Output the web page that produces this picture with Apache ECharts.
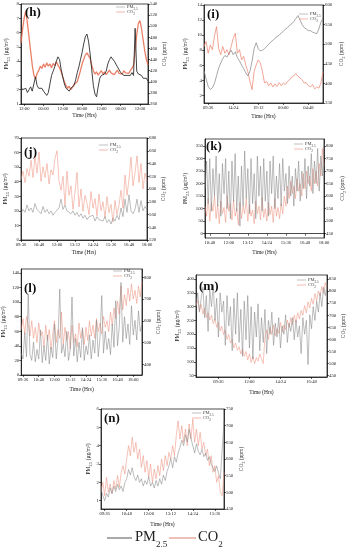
<!DOCTYPE html>
<html><head><meta charset="utf-8">
<script src="https://cdn.jsdelivr.net/npm/echarts@6/dist/echarts.min.js"></script>
<style>html,body{margin:0;padding:0;background:#fff}#c{width:350px;height:550px}</style>
</head><body><div id="c"></div>
<script>
// ---------- data ----------
const hPM = [2.2,2.0,1.9,2.1,1.8,2.0,2.2,1.9,2.4,2.9,2.3,2.1,2.0,2.1,1.9,2.0,1.6,1.8,2.4,3.0,3.3,3.6,4.0,4.3,4.1,3.4,2.9,2.4,2.1,2.0,1.9,2.1,2.0,2.3,2.7,3.2,3.6,4.1,4.6,5.2,5.7,5.9,5.4,4.5,3.4,2.3,1.7,1.5,2.2,2.8,3.0,2.9,3.1,3.3,3.8,4.1,4.3,4.2,4.0,3.8,3.6,3.4,3.2,3.1,3.0,2.9,3.0,3.1,3.0,3.2,3.0,6.3,3.3,3.1,3.2,3.0,2.8,2.7,2.8,2.6];
const hCO2 = [470,495,515,528,505,480,455,430,412,405,415,420,428,424,432,426,434,428,432,425,433,429,436,430,425,418,408,400,393,388,392,386,390,395,393,400,410,420,432,440,448,452,450,442,430,420,414,418,412,416,420,414,418,413,417,421,416,419,413,417,421,415,418,414,420,416,419,415,420,424,430,455,485,505,510,495,475,455,440,430];
const iPM = [5.3,4.2,3.2,2.8,3.0,3.6,4.6,5.6,6.3,6.9,7.3,7.1,7.6,8.0,7.4,7.8,7.0,6.6,6.0,5.6,5.0,4.6,5.2,6.5,8.2,9.0,8.2,7.9,8.0,8.2,8.5,8.8,9.1,9.3,9.6,9.8,10.0,10.3,10.5,10.8,11.0,11.3,11.5,11.8,12.2,12.6,12.0,11.4,11.0,10.8,10.6,10.6,10.4,10.3,10.2,10.8,11.7,12.3];
const iCO2 = [494,507,477,498,486,520,545,490,473,494,477,486,473,494,515,528,477,486,460,469,447,430,405,384,430,447,460,452,430,401,405,394,401,391,399,392,402,394,401,397,405,409,416,419,425,418,414,409,401,402,394,391,397,386,391,388,401,430];
const jPM = [18,21,19,24,20,22,19,25,21,20,18,23,19,21,18,20,17,19,18,22,28,21,24,20,21,18,20,17,19,16,18,15,17,14,16,15,17,13,16,14,15,13,16,12,14,11,15,13,17,14,22,16,28,19,31,20,18,21,28,19,27,20,23,21];
const jCO2 = [615,628,610,632,620,645,618,652,625,658,612,635,618,640,608,630,622,648,660,612,598,620,575,628,590,605,568,595,626,572,600,565,590,578,560,596,570,585,558,592,566,580,555,588,563,576,548,582,560,575,598,570,622,590,615,650,605,625,652,610,640,600,625,612];
const kPM = [180,290,120,300,90,260,150,310,110,240,70,280,160,300,100,250,60,290,130,320,90,230,30,270,110,330,140,260,80,300,120,240,60,310,150,270,90,300,130,250,70,290,160,310,100,230,140,280,110,300,170,240,120,270,150,230,110,260,170,290,130,250,180,300,140,270,190,320,160,290,200,340,170,310,230,360];
const kCO2 = [560,520,590,500,575,540,600,510,565,490,580,530,555,495,600,540,570,505,585,520,550,485,575,510,560,530,590,500,565,520,545,490,580,530,560,505,595,515,550,500,575,525,560,495,590,520,555,510,570,530,600,560,640,590,660,610,640,590,670,620,650,600,690,630,700,650,680,620,710,650,700,640,730,680,790,720];
const lPM = [30,22,58,25,111,28,20,45,18,35,22,62,17,40,20,55,15,38,24,70,22,48,118,30,42,25,60,20,35,107,26,50,18,45,24,65,20,40,28,55,22,48,30,75,25,52,109,30,60,35,50,28,70,38,102,40,65,127,45,80,50,70,42,95,55,75,48,88,60,70];
const lCO2 = [560,610,540,620,580,530,600,520,570,500,590,530,550,480,580,510,560,470,540,600,500,560,520,640,490,570,510,550,470,580,500,540,480,590,520,560,490,570,510,600,530,580,520,610,550,590,540,620,570,600,550,640,580,660,610,690,630,760,650,720,670,750,690,770,700,740,680,760,710,780];
const mPM = [300,350,280,330,370,260,340,210,360,300,380,250,330,190,350,280,320,160,340,230,300,140,330,200,350,170,290,120,320,180,340,150,300,110,280,190,310,140,260,170,290,130,250,200,280,160,240,190,260,150,230,200,270,170,240,210,260,180,250,190,230,130,260,200,250,90,270,220,300,250,320,280,350,300,370,340,380];
const mCO2 = [740,760,720,745,705,730,690,710,680,700,665,685,650,670,635,655,620,640,600,620,585,600,565,585,555,570,540,560,530,550,515,540,505,530,500,525,510,540,520,500,610,640,600,650,620,660,615,645,625,670,630,660,640,680,650,690,660,700,670,710,685,720,700,740,710,755,730,770,745,790,760,800,780,820,790,835,810];
const nPM = [1.6,1.3,1.0,1.4,1.2,1.7,1.4,1.8,1.5,1.9,1.6,1.8,1.5,2.0,2.2,2.7,2.4,2.8,2.3,2.1,2.4,2.0,2.2,1.8,2.1,1.9,2.3,1.8,2.0,1.7,2.1,1.8,2.2,1.9,2.4,2.1,2.6,2.9,3.3,2.8,3.4,3.1,3.6,3.9,4.3,4.0,4.6,4.2,4.9,4.4,4.0,3.6,4.1,3.7,3.5,3.8,3.4,3.6,3.2,3.4,3.0,2.8,2.6,2.9,2.5,2.2,3.8,5.3];
const nCO2 = [505,530,490,545,500,525,495,535,510,550,515,560,580,555,600,640,610,665,620,650,600,630,575,610,560,595,545,585,530,570,540,580,550,600,565,610,580,620,600,640,610,670,715,660,700,650,690,640,705,660,720,650,690,640,680,630,650,610,630,580,610,560,580,530,550,500,490,560];

// tick labels
const hTimeTicks = ['12:00','00:00'];
const iTimeTicks = ['09:36','14:24','19:12','00:00','04:48'];
const jTimeTicks = ['09:36','10:48','12:00','13:12','14:24','15:36','16:48','18:00'];
const kTimeTicks = ['10:48','12:00','13:12','14:24','15:36','16:48','18:00'];
const lTimeTicks = ['09:36','10:48','12:00','13:12','14:24','15:36','16:48','18:00'];
const mTimeTicks = ['09:36','12:00','14:24','16:48'];
const nTimeTicks = ['09:36','10:48','12:00','13:12','14:24','15:36'];
const hLeftTicks = [1,2,3,4,5,6,7,8];
const hRightTicks = [360,380,400,420,440,460,480,500,520,540];
const iLeftTicks = [2,4,6,8,10,12,14];
const iRightTicks = [350,400,450,500,550,600];
const jLeftTicks = [0,10,20,30,40,50,60,70];
const jRightTicks = [520,540,560,580,600,620,640,660,680];
const kLeftTicks = [0,50,100,150,200,250,300,350];
const kRightTicks = [450,500,550,600,650,700,750,800];
const lLeftTicks = [0,20,40,60,80,100,120,140];
const lRightTicks = [400,500,600,700,800];
const mLeftTicks = [50,100,150,200,250,300,350,400];
const mRightTicks = [450,500,550,600,650,700,750,800,850];
const nLeftTicks = [1,2,3,4,5,6];
const nRightTicks = [450,500,550,600,650,700,750];

// sampling (start minute of day, step minutes)
const sampling = {h:[600,60], i:[528,24], j:[576,8], k:[630,6], l:[568,8], m:[472,8], n:[564,6]};

// ---------- layout / style ----------
const FONT = 'Liberation Serif';
const PM_COLOR = '#858585', CO2_COLOR = '#ec8a76';
const panels = [
  {k:'h', tag:'(h)', pm:hPM, co2:hCO2, xt:hTimeTicks, lt:hLeftTicks, rt:hRightTicks, grid:{left:21,top:4,width:127,height:100}, lr:[1,8], rr:[360,540], gap:[10,11,9], pmColor:'#2f2f2f', co2Color:'#e66a4e', w:[1.0,1.3], tagAt:[25,6], legAt:[116,7]},
  {k:'i', tag:'(i)', pm:iPM, co2:iCO2, xt:iTimeTicks, lt:iLeftTicks, rt:iRightTicks, grid:{left:204,top:5,width:119,height:98}, lr:[1,14], rr:[350,600], gap:[14,16,11], w:[0.8,0.9], tagAt:[207,8], legAt:[299,14]},
  {k:'j', tag:'(j)', pm:jPM, co2:jCO2, xt:jTimeTicks, lt:jLeftTicks, rt:jRightTicks, grid:{left:21,top:138,width:126,height:102}, lr:[0,70], rr:[520,680], gap:[11,13,10], tagAt:[24,146], legAt:[99,145]},
  {k:'k', tag:'(k)', pm:kPM, co2:kCO2, xt:kTimeTicks, lt:kLeftTicks, rt:kRightTicks, grid:{left:205,top:139,width:119,height:99}, lr:[-17,378], rr:[433,828], gap:[15,16,12], tagAt:[206,140], legAt:[294,144]},
  {k:'l', tag:'(l)', pm:lPM, co2:lCO2, xt:lTimeTicks, lt:lLeftTicks, rt:lRightTicks, grid:{left:20,top:269,width:122,height:106}, lr:[0,145.5], rr:[351,838], gap:[12,13,12], tagAt:[24,282], legAt:[113,271]},
  {k:'m', tag:'(m)', pm:mPM, co2:mCO2, xt:mTimeTicks, lt:mLeftTicks, rt:mRightTicks, grid:{left:196,top:275,width:131,height:102}, lr:[45,414.5], rr:[444.6,866.5], gap:[14,13,13], tagAt:[199,280], legAt:[297,280]},
  {k:'n', tag:'(n)', pm:nPM, co2:nCO2, xt:nTimeTicks, lt:nLeftTicks, rt:nRightTicks, grid:{left:101,top:409,width:123,height:100}, lr:[0.55,6], rr:[450,750], gap:[8,15,13], tagAt:[104,412], legAt:[192,413]}
];

function makeTimes(start, step, n){
  const out=[];
  for(let q=0;q<n;q++){
    const t=(start+q*step)%1440;
    out.push(String(Math.floor(t/60)).padStart(2,'0')+':'+String(t%60).padStart(2,'0'));
  }
  return out;
}

const axLine = {show:true, lineStyle:{color:'#000', width:0.7}};
const smallRich = (fs) => ({
  a:{fontSize:fs, fontFamily:FONT, color:'#222', verticalAlign:'top', lineHeight:fs},
  s:{fontSize:fs*0.72, fontFamily:FONT, color:'#222', verticalAlign:'bottom', lineHeight:fs*1.3}
});

const grids=[], xAxes=[], yAxes=[], series=[], graphics=[];
panels.forEach((p, idx) => {
  grids.push(Object.assign({show:true, borderColor:'#000', borderWidth:0.7, containLabel:false}, p.grid));
  const times = makeTimes(sampling[p.k][0], sampling[p.k][1], p.pm.length);
  const showT = (i, v) => p.xt.includes(v);
  const w = p.w || [0.6, 0.6];
  xAxes.push({
    gridIndex:idx, type:'category', data:times, boundaryGap:false,
    axisLine:axLine,
    axisTick:{show:true, interval:showT, length:2, lineStyle:{color:'#000', width:0.6}},
    axisLabel:{interval:showT, fontSize:4.6, fontFamily:FONT, color:'#222', margin:2.5},
    splitLine:{show:false},
    name:'Time (Hrs)', nameLocation:'middle', nameGap:p.gap[2],
    nameTextStyle:{fontSize:5.5, fontFamily:FONT, color:'#222'}
  });
  yAxes.push({
    gridIndex:idx, type:'value', position:'left', min:p.lr[0], max:p.lr[1],
    axisLine:axLine,
    axisTick:{show:true, length:2, customValues:p.lt, lineStyle:{color:'#000', width:0.6}},
    axisLabel:{customValues:p.lt, fontSize:4.8, fontFamily:FONT, color:'#222', margin:2},
    splitLine:{show:false},
    name:'{a|PM}{s|2.5}{a| (μg/m³)}', nameLocation:'middle', nameGap:p.gap[0],
    nameTextStyle:{fontSize:5.5, fontFamily:FONT, color:'#222', rich:smallRich(5.5)}
  });
  yAxes.push({
    gridIndex:idx, type:'value', position:'right', min:p.rr[0], max:p.rr[1],
    axisLine:axLine,
    axisTick:{show:true, length:2, customValues:p.rt, lineStyle:{color:'#000', width:0.6}},
    axisLabel:{customValues:p.rt, fontSize:4.8, fontFamily:FONT, color:'#222', margin:2},
    splitLine:{show:false},
    name:'{a|CO}{s|2}{a| (ppm)}', nameLocation:'middle', nameGap:p.gap[1],
    nameTextStyle:{fontSize:5.5, fontFamily:FONT, color:'#222', rich:smallRich(5.5)}
  });
  series.push({
    name:'PM2.5', type:'line', xAxisIndex:idx, yAxisIndex:2*idx, data:p.pm,
    showSymbol:false, symbol:'none', lineStyle:{color:p.pmColor||PM_COLOR, width:w[0], opacity:0.9}, z:3
  });
  series.push({
    name:'CO2', type:'line', xAxisIndex:idx, yAxisIndex:2*idx+1, data:p.co2,
    showSymbol:false, symbol:'none', lineStyle:{color:p.co2Color||CO2_COLOR, width:w[1], opacity:0.85}, z:2
  });
  graphics.push({type:'text', left:p.tagAt[0], top:p.tagAt[1], z:10,
    style:{text:p.tag, font:'bold 13px "Liberation Serif"', fill:'#111'}});
  const [lx, ly] = p.legAt;
  graphics.push({type:'line', z:10, shape:{x1:lx, y1:ly, x2:lx+9, y2:ly}, style:{stroke:'#999', lineWidth:0.6}});
  graphics.push({type:'line', z:10, shape:{x1:lx, y1:ly+5, x2:lx+9, y2:ly+5}, style:{stroke:CO2_COLOR, lineWidth:0.6}});
  graphics.push({type:'text', z:10, left:lx+11, top:ly-2.5,
    style:{text:'{a|PM}{s|2.5}', rich:{a:{fontSize:4.5, fontFamily:FONT, fill:'#444', verticalAlign:'top', lineHeight:4.5}, s:{fontSize:3.4, fontFamily:FONT, fill:'#444', verticalAlign:'bottom', lineHeight:5.8}}}});
  graphics.push({type:'text', z:10, left:lx+11, top:ly+2.5,
    style:{text:'{a|CO}{s|2}', rich:{a:{fontSize:4.5, fontFamily:FONT, fill:'#444', verticalAlign:'top', lineHeight:4.5}, s:{fontSize:3.4, fontFamily:FONT, fill:'#444', verticalAlign:'bottom', lineHeight:5.8}}}});
});

// main legend
graphics.push({type:'line', shape:{x1:107, y1:538, x2:132, y2:538}, style:{stroke:'#555', lineWidth:1}});
graphics.push({type:'text', left:135, top:530,
  style:{text:'{a|PM}{s|2.5}', rich:{a:{fontSize:14.5, fontFamily:FONT, fill:'#222', verticalAlign:'top', lineHeight:14.5}, s:{fontSize:9, fontFamily:FONT, fill:'#222', verticalAlign:'bottom', lineHeight:19}}}});
graphics.push({type:'line', shape:{x1:169, y1:538, x2:196, y2:538}, style:{stroke:'#d9826f', lineWidth:1}});
graphics.push({type:'text', left:198, top:530,
  style:{text:'{a|CO}{s|2}', rich:{a:{fontSize:14.5, fontFamily:FONT, fill:'#222', verticalAlign:'top', lineHeight:14.5}, s:{fontSize:9, fontFamily:FONT, fill:'#222', verticalAlign:'bottom', lineHeight:19}}}});

const chart = echarts.init(document.getElementById('c'), null, {renderer:'canvas'});
chart.setOption({
  animation:false,
  backgroundColor:'#fff',
  textStyle:{fontFamily:FONT},
  grid:grids, xAxis:xAxes, yAxis:yAxes, series:series, graphic:graphics
});
</script></body></html>
